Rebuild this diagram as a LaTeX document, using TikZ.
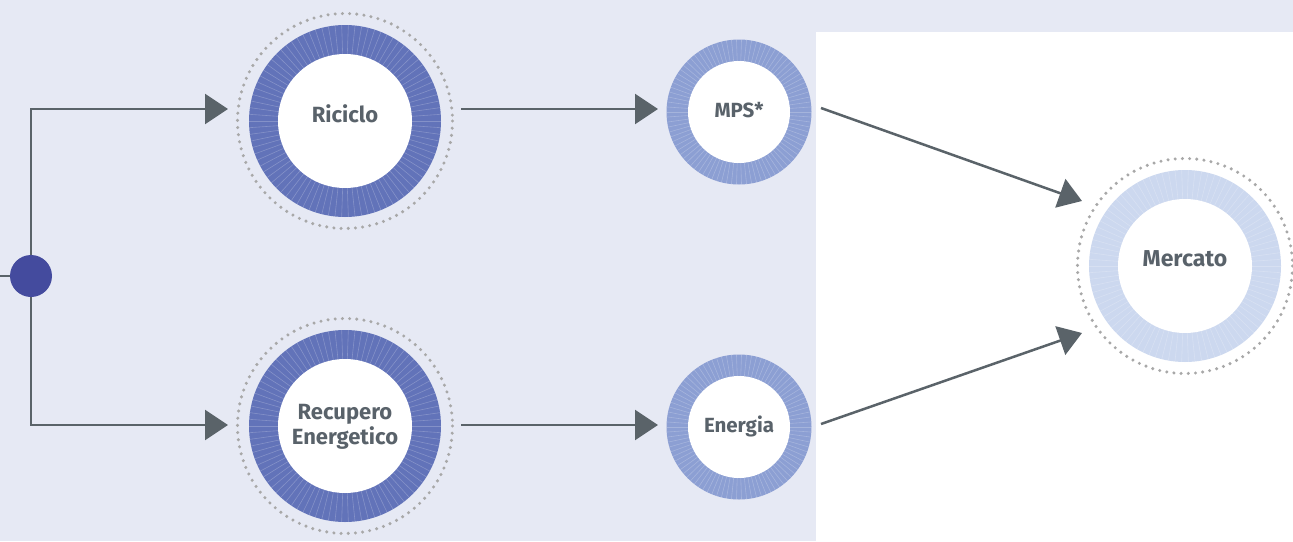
\documentclass[tikz,border=0pt]{standalone}
\usepackage{fontspec}
\setsansfont{Fira Sans}
\usetikzlibrary{arrows.meta}
\definecolor{bgc}{HTML}{E6E9F4}
\definecolor{ringA}{HTML}{6273B9}
\definecolor{ringB}{HTML}{8C9FD3}
\definecolor{ringC}{HTML}{CCD8EF}
\definecolor{dotc}{HTML}{444B9E}
\definecolor{linec}{HTML}{5A6369}
\definecolor{dotted}{HTML}{A8A8A8}
\definecolor{txtc}{HTML}{59626A}
\tikzset{
  ringnode/.style={circle, inner sep=0pt, minimum size=#1},
  conn/.style={draw=linec, line width=2.5pt, -{Triangle[length=23pt,width=30pt]}, fill=none},
  plainline/.style={draw=linec, line width=2.5pt},
  dotring/.style={draw=dotted, line width=3.4pt, line cap=round, dash pattern=on 0pt off 7.2pt},
  bigtxt/.style={font=\sffamily\bfseries\fontsize{22}{25}\selectfont, text=txtc, align=center, inner sep=0pt},
  midtxt/.style={font=\sffamily\bfseries\fontsize{23}{25}\selectfont, text=txtc, align=center, inner sep=0pt},
  smalltxt/.style={font=\sffamily\bfseries\fontsize{20.5}{22}\selectfont, text=txtc, align=center, inner sep=0pt},
}
\newcommand\ringdeco[4]{% node, outer r, inner r, colour
  \fill[#4] (#1.center) circle[radius=#2];
  \foreach \a in {0,4,...,356}
    \draw[shift={(#1.center)}, white, opacity=.22, line width=.6pt] (\a:#3) -- (\a:#2);
  \fill[white] (#1.center) circle[radius=#3];
}
\begin{document}
\begin{tikzpicture}[x=1pt,y=-1pt]
\useasboundingbox (0,0) rectangle (1293,541);
\fill[bgc] (0,0) rectangle (1293,541);
\fill[white] (816,32) rectangle (1293,541);

% ring nodes
\node[ringnode=192pt] (ric) at (345,121) {};
\node[ringnode=192pt] (rec) at (345,426) {};
\node[ringnode=145pt] (mps) at (739,112) {};
\node[ringnode=145pt] (ene) at (739,427) {};
\node[ringnode=192pt] (mer) at (1185,266) {};

\ringdeco{ric}{96}{67}{ringA}
\ringdeco{rec}{96}{67}{ringA}
\ringdeco{mps}{72.5}{51}{ringB}
\ringdeco{ene}{72.5}{51}{ringB}
\ringdeco{mer}{96}{67}{ringC}

\draw[dotring] (ric.center) circle[radius=107.5];
\draw[dotring] (rec.center) circle[radius=107.5];
\draw[dotring] (mer.center) circle[radius=107.5];

% labels
\node[bigtxt, anchor=base] (ricT) at (345,122) {Riciclo};
\node[bigtxt, anchor=base] (recT) at (345,444) {Recupero\\Energetico};
\node[smalltxt, anchor=base] (mpsT) at (739,117) {MPS*};
\node[smalltxt, anchor=base] (eneT) at (739,432) {Energia};
\node[midtxt, anchor=base] (merT) at (1185,266) {Mercato};

% connector coordinates
\coordinate (lft) at (0,276);
\coordinate (jn) at (31,276);
\coordinate (ricIn) at (228,109);
\coordinate (recIn) at (228,425);
\coordinate (ricOut) at (461,109);
\coordinate (mpsIn) at (658,109);
\coordinate (recOut) at (461,425);
\coordinate (eneIn) at (658,425);
\coordinate (mpsOut) at (821,108);
\coordinate (merInA) at (1082,201);
\coordinate (eneOut) at (821,424);
\coordinate (merInB) at (1082,333);

\draw[plainline] (lft) -- (jn);
\draw[conn] (jn) |- (ricIn);
\draw[conn] (jn) |- (recIn);
\draw[conn] (ricOut) -- (mpsIn);
\draw[conn] (recOut) -- (eneIn);
\draw[conn] (mpsOut) -- (merInA);
\draw[conn] (eneOut) -- (merInB);

\node[circle, fill=dotc, minimum size=42pt, inner sep=0pt] (jdot) at (jn) {};
\end{tikzpicture}
\end{document}
